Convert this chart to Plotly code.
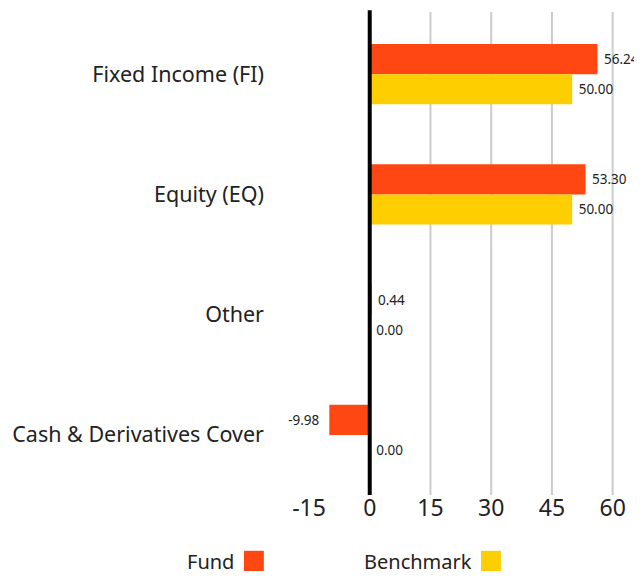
import plotly.graph_objects as go

categories = ["Fixed Income (FI)", "Equity (EQ)", "Other", "Cash & Derivatives Cover"]
fund = [56.24, 53.30, 0.44, -9.98]
benchmark = [50.00, 50.00, 0.00, 0.00]
x_ticks = [-15, 0, 15, 30, 45, 60]
grid_vals = [15, 30, 45, 60]

FUND_C = "#FF4713"
BENCH_C = "#FFCE00"
FONT = "Noto Sans"
NB = "\u00a0"


def label(v):
    s = f"{v:.2f}"
    return s + NB * 2 if v < 0 else NB + s


fig = go.Figure()
fig.add_trace(go.Bar(
    y=categories, x=fund, name="Fund", orientation="h",
    marker=dict(color=FUND_C, line=dict(width=0)),
    text=[label(v) for v in fund], textposition="outside",
    textfont=dict(size=13.5, color="#222", family=FONT), cliponaxis=False,
))
fig.add_trace(go.Bar(
    y=categories, x=benchmark, name="Benchmark", orientation="h",
    marker=dict(color=BENCH_C, line=dict(width=0)),
    text=[label(v) for v in benchmark], textposition="outside",
    textfont=dict(size=13.5, color="#222", family=FONT), cliponaxis=False,
))

shapes = []
for g in grid_vals:
    shapes.append(dict(type="line", xref="x", yref="paper", x0=g, x1=g, y0=0, y1=1.004,
                       line=dict(color="#cccccc", width=2), layer="below"))
shapes.append(dict(type="line", xref="x", yref="paper", x0=0, x1=0, y0=0, y1=1.008,
                   line=dict(color="#000000", width=4), layer="above"))
# legend squares
shapes.append(dict(type="rect", xref="paper", yref="paper", x0=-0.196, x1=-0.136, y0=-0.116, y1=-0.158,
                   fillcolor=FUND_C, line=dict(width=0)))
shapes.append(dict(type="rect", xref="paper", yref="paper", x0=0.518, x1=0.578, y0=-0.116, y1=-0.158,
                   fillcolor=BENCH_C, line=dict(width=0)))

annotations = [
    dict(text="Fund", xref="paper", yref="paper", x=-0.221, y=-0.139, xanchor="right", yanchor="middle",
         showarrow=False, font=dict(size=20, color="#222", family=FONT)),
    dict(text="Benchmark", xref="paper", yref="paper", x=0.497, y=-0.139, xanchor="right", yanchor="middle",
         showarrow=False, font=dict(size=20, color="#222", family=FONT)),
]

fig.update_layout(
    width=642, height=577,
    margin=dict(l=301, r=9, t=6, b=90),
    paper_bgcolor="white", plot_bgcolor="white",
    barmode="group", bargap=0.5, bargroupgap=0,
    showlegend=False,
    font=dict(family=FONT, color="#222"),
    shapes=shapes, annotations=annotations,
    xaxis=dict(range=[-15, 67], tickvals=x_ticks, ticktext=[str(v) for v in x_ticks],
               showgrid=False, zeroline=False, showline=False, automargin=False,
               tickfont=dict(size=23, color="#222", family=FONT), ticklabelstandoff=-3),
    yaxis=dict(autorange="reversed", showgrid=False, zeroline=False, showline=False, automargin=False,
               tickfont=dict(size=21.5, color="#222", family=FONT), ticklabelstandoff=44),
)

fig.write_html("out.html")
